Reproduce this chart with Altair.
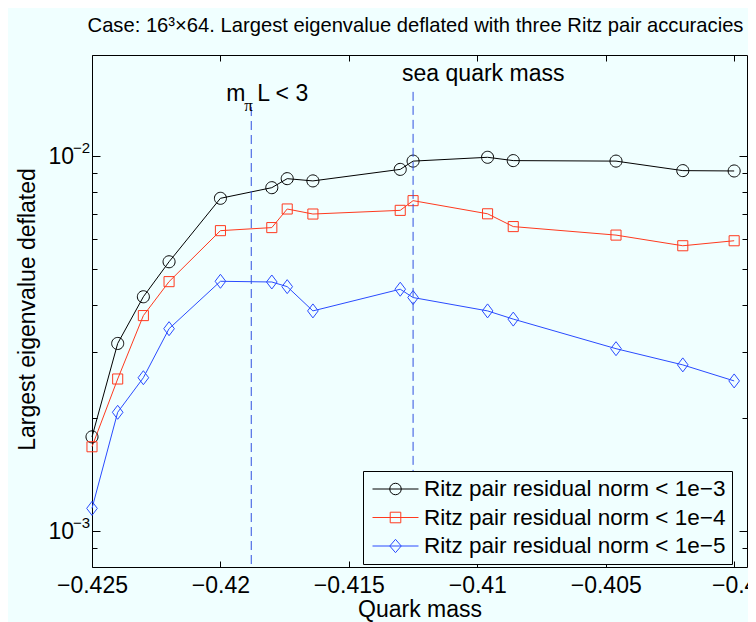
import altair as alt
import pandas as pd

# ---------------- data ----------------
quark_mass = [-0.425, -0.424, -0.423, -0.422, -0.42, -0.418, -0.4174, -0.4164,
              -0.413, -0.4125, -0.4096, -0.4086, -0.4046, -0.402, -0.4]
eig_res_1e3 = [1.78e-3, 3.16e-3, 4.21e-3, 5.22e-3, 7.71e-3, 8.23e-3, 8.70e-3, 8.58e-3,
               9.21e-3, 9.69e-3, 9.92e-3, 9.72e-3, 9.69e-3, 9.14e-3, 9.12e-3]
eig_res_1e4 = [1.675e-3, 2.54e-3, 3.75e-3, 4.62e-3, 6.32e-3, 6.44e-3, 7.22e-3, 7.00e-3,
               7.16e-3, 7.60e-3, 7.01e-3, 6.48e-3, 6.15e-3, 5.76e-3, 5.94e-3]
eig_res_1e5 = [1.147e-3, 2.07e-3, 2.56e-3, 3.46e-3, 4.63e-3, 4.61e-3, 4.48e-3, 3.86e-3,
               4.41e-3, 4.19e-3, 3.86e-3, 3.67e-3, 3.06e-3, 2.77e-3, 2.51e-3]
series_labels = ["Ritz pair residual norm < 1e\u22123",
                 "Ritz pair residual norm < 1e\u22124",
                 "Ritz pair residual norm < 1e\u22125"]

x_ticks = [-0.425, -0.42, -0.415, -0.41, -0.405, -0.4]
y_major = [0.001, 0.01]
y_minor = [0.0009, 0.002, 0.003, 0.004, 0.005, 0.006, 0.007, 0.008, 0.009]
y_exponents = ["\u22123", "\u22122"]

ref_masses = [-0.4188, -0.4125]      # m_pi L = 3 boundary, sea quark mass
ref_tops = [0.01351, 0.01483]
ref_bottoms = [0.0008, 0.0008]

title_text = "Case: 16\u00b3\u00d764. Largest eigenvalue deflated with three Ritz pair accuracies"

# ---------------- styles ----------------
FONT = "Liberation Sans"
BG = "#F0FFFF"
colors = ["#000000", "#ff3a1f", "#2a4bff"]
W, H = 655, 512

point_paths = [
    "M0.86,0A0.86,0.86,0,1,1,-0.86,0A0.86,0.86,0,1,1,0.86,0Z",
    "M-0.72,-0.72L0.72,-0.72L0.72,0.72L-0.72,0.72Z",
    "M0,-1L0.76,0L0,1L-0.76,0Z",
]
legend_paths = [
    "M-2,0L2,0M0.5,0A0.5,0.5,0,1,1,-0.5,0A0.5,0.5,0,1,1,0.5,0Z",
    "M-2,0L2,0M-0.46,-0.46L0.46,-0.46L0.46,0.46L-0.46,0.46Z",
    "M-2,0L2,0M0,-0.58L0.5,0L0,0.58L-0.5,0Z",
]

rows = []
for lab, vals in zip(series_labels, [eig_res_1e3, eig_res_1e4, eig_res_1e5]):
    for m, v in zip(quark_mass, vals):
        rows.append({"mass": m, "value": v, "series": lab})
df = pd.DataFrame(rows)
ref_df = pd.DataFrame({"x": ref_masses, "top": ref_tops, "bottom": ref_bottoms})
ylab_df = pd.DataFrame({"y": y_major, "exp": y_exponents})
title_df = pd.DataFrame({"t": [title_text]})

xscale = alt.Scale(domain=[-0.425, -0.3995], nice=False, zero=False)
yscale = alt.Scale(type="log", domain=[0.0008, 0.0186], nice=False)
cscale = alt.Scale(domain=series_labels, range=colors)
sscale = alt.Scale(domain=series_labels, range=point_paths)
lscale = alt.Scale(domain=series_labels, range=legend_paths)


def tick_axis(orient, offset, values, size):
    return alt.Axis(orient=orient, offset=offset, values=values, tickSize=size,
                    labels=False, domain=False, grid=False, title=None,
                    tickColor="black", tickWidth=1)


legend = alt.Legend(
    title=None, orient="none", legendX=271, legendY=416,
    labelFont=FONT, labelFontSize=22.5, labelColor="black", labelLimit=0,
    symbolSize=529, symbolStrokeWidth=1, symbolFillColor="transparent",
    padding=6, rowPadding=4.5, symbolOffset=14.5, labelOffset=16.5,
    strokeColor="black", fillColor=BG,
)

lines = alt.Chart(df).mark_line(strokeWidth=1).encode(
    x=alt.X("mass:Q", scale=xscale,
            axis=alt.Axis(orient="bottom", values=x_ticks, format="~g", ticks=False,
                          domain=False, grid=False, labelPadding=7, labelFlush=False,
                          labelExpr="datum.label + '\u00a0\u00a0\u00a0'",
                          labelFont=FONT, labelFontSize=23, labelColor="black",
                          title="Quark mass", titleFont=FONT, titleFontSize=23,
                          titleFontWeight="normal", titleColor="black",
                          titleY=49.5, titleBaseline="alphabetic")),
    y=alt.Y("value:Q", scale=yscale,
            axis=alt.Axis(orient="left", labels=False, ticks=False, domain=False, grid=False,
                          title="Largest eigenvalue deflated", titleFont=FONT,
                          titleFontSize=23, titleFontWeight="normal", titleColor="black",
                          titleX=-58, titleY=254, titleAngle=270, titleAlign="center",
                          titleBaseline="alphabetic")),
    color=alt.Color("series:N", scale=cscale, legend=None),
)

points = alt.Chart(df).mark_point(filled=False, strokeWidth=1, size=196, opacity=1).encode(
    x=alt.X("mass:Q", scale=xscale, axis=tick_axis("top", -H, x_ticks, 6)),
    y=alt.Y("value:Q", scale=yscale, axis=tick_axis("right", -W, y_major, 8)),
    color=alt.Color("series:N", scale=cscale, legend=None),
    shape=alt.Shape("series:N", scale=sscale, legend=None),
)

legend_layer = alt.Chart(df).mark_point(filled=False, strokeWidth=1, opacity=1).encode(
    x=alt.X("mass:Q", scale=xscale, axis=None),
    y=alt.Y("value:Q", scale=yscale, axis=None),
    color=alt.Color("series:N", scale=cscale, legend=legend),
    shape=alt.Shape("series:N", scale=lscale, legend=legend),
).transform_filter("false")

refs = alt.Chart(ref_df).mark_rule(strokeDash=[9, 5], strokeWidth=1, color="#3050e0").encode(
    x=alt.X("x:Q", scale=xscale, axis=tick_axis("bottom", -H, x_ticks, 6)),
    y=alt.Y("top:Q", scale=yscale, axis=tick_axis("right", -W, y_minor, 5)),
    y2="bottom:Q",
)

ann_sea = alt.Chart(ref_df.iloc[[1]]).mark_text(
    text="sea quark mass", font=FONT, fontSize=23, color="black",
    align="left", baseline="alphabetic", dx=-11, dy=0).encode(
    x=alt.X("x:Q", scale=xscale, axis=None),
    y=alt.Y("label_y:Q", scale=yscale, axis=tick_axis("left", -W, y_major, 8)),
).transform_calculate(label_y="0.01585")

ann_m = alt.Chart(ref_df.iloc[[0]]).mark_text(
    text="m", font=FONT, fontSize=23, color="black",
    align="left", baseline="alphabetic", dx=-25).encode(
    x=alt.X("x:Q", scale=xscale, axis=None),
    y=alt.Y("label_y:Q", scale=yscale, axis=tick_axis("left", -W, y_minor, 5)),
).transform_calculate(label_y="0.01405")

ann_pi = alt.Chart(ref_df.iloc[[0]]).mark_text(
    text="\u03c0", font="Liberation Serif", fontSize=17, color="black",
    align="left", baseline="alphabetic", dx=-7, dy=10).encode(
    x=alt.X("x:Q", scale=xscale, axis=None),
    y=alt.Y("label_y:Q", scale=yscale, axis=None),
).transform_calculate(label_y="0.01405")

ann_l = alt.Chart(ref_df.iloc[[0]]).mark_text(
    text="L < 3", font=FONT, fontSize=23, color="black",
    align="left", baseline="alphabetic", dx=6).encode(
    x=alt.X("x:Q", scale=xscale, axis=None),
    y=alt.Y("label_y:Q", scale=yscale, axis=None),
).transform_calculate(label_y="0.01405")

ylab_base = alt.Chart(ylab_df).mark_text(
    text="10", font=FONT, fontSize=23, color="black",
    align="right", baseline="alphabetic", dx=-18, dy=8.5).encode(
    x=alt.XDatum(-0.425, type="quantitative", scale=xscale, axis=None),
    y=alt.Y("y:Q", scale=yscale, axis=None),
)
ylab_exp = alt.Chart(ylab_df).mark_text(
    font=FONT, fontSize=15, color="black",
    align="right", baseline="alphabetic", dx=-2, dy=-3).encode(
    x=alt.XDatum(-0.425, type="quantitative", scale=xscale, axis=None),
    y=alt.Y("y:Q", scale=yscale, axis=None),
    text="exp:N",
)

title_mark = alt.Chart(title_df).mark_text(
    font=FONT, fontSize=20.2, color="black", align="center", baseline="alphabetic").encode(
    x=alt.value(W / 2 - 4),
    y=alt.value(-23.5),
    text="t:N",
)

chart = alt.layer(
    lines, points, legend_layer, refs, ann_sea, ann_m, ann_pi, ann_l,
    ylab_base, ylab_exp, title_mark
).resolve_axis(x="independent", y="independent").resolve_scale(
    shape="independent", color="independent"
).properties(
    width=W, height=H,
    autosize=alt.AutoSizeParams(type="none"),
    padding={"left": 84, "top": 47, "right": 1, "bottom": 55},
    background=BG,
).configure_view(stroke="black", strokeWidth=1, fill=BG)

chart.save("out.html", embed_options={"renderer": "svg", "actions": False})
